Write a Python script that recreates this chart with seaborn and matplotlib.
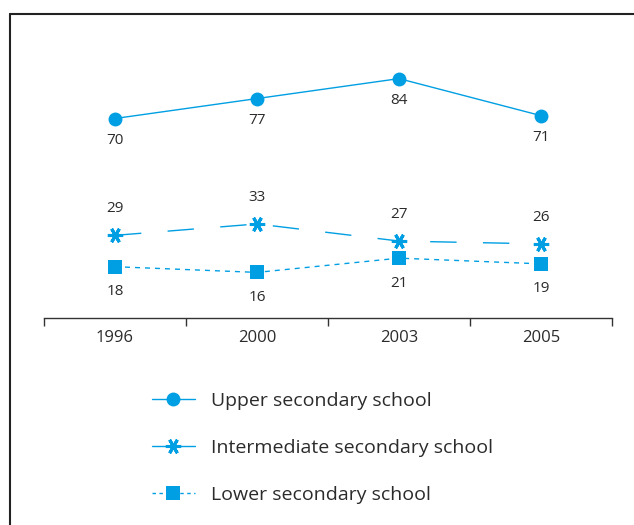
import matplotlib
matplotlib.use('Agg')
import matplotlib.pyplot as plt
import seaborn as sns
import pandas as pd
from matplotlib.lines import Line2D

# Data
years = ['1996', '2000', '2003', '2005']
upper = [70, 77, 84, 71]
intermediate = [29, 33, 27, 26]
lower = [18, 16, 21, 19]
series_names = ['Upper secondary school', 'Intermediate secondary school', 'Lower secondary school']

BLUE = '#009fe3'
TEXT = '#2b2b2b'

sns.set_theme(style='white')
plt.rcParams['font.family'] = ['Open Sans', 'DejaVu Sans']

df = pd.DataFrame({
    'pos': list(range(len(years))) * 3,
    'value': upper + intermediate + lower,
    'series': [s for s in series_names for _ in years],
})

fig = plt.figure(figsize=(6.34, 5.25), dpi=100)
ax = fig.add_axes([44 / 634, 1 - 318 / 525, (612 - 44) / 634, (318 - 33) / 525])

styles = {
    'Upper secondary school': dict(marker='o', markersize=10, dashes=None),
    'Intermediate secondary school': dict(marker=(6, 2, 90), markersize=11, dashes=(19, 19)),
    'Lower secondary school': dict(marker='s', markersize=9.5, dashes=(3.6, 3.6)),
}
offsets = {
    'Upper secondary school': -16,
    'Intermediate secondary school': 19,
    'Lower secondary school': -18,
}

handles = []
for name in series_names:
    sub = df[df['series'] == name]
    st = styles[name]
    is_star = name.startswith('Inter')
    sns.lineplot(data=sub, x='pos', y='value', ax=ax, color=BLUE, linewidth=1.0,
                 marker=st['marker'], markersize=st['markersize'],
                 markeredgecolor=BLUE, markeredgewidth=2.2 if is_star else 0,
                 legend=False)
    line = ax.lines[-1]
    if st['dashes'] is not None:
        line.set_dashes(st['dashes'])
    for x, v in zip(sub['pos'], sub['value']):
        ax.annotate(str(v), (x, v), xytext=(0, offsets[name]), textcoords='offset points',
                    ha='center', va='center', fontsize=11, color=TEXT)
    h = Line2D([0], [0], color=BLUE, linewidth=1.0, marker=st['marker'],
               markersize=st['markersize'], markeredgecolor=BLUE,
               markeredgewidth=2.2 if is_star else 0)
    if name.startswith('Lower'):
        h.set_dashes((2.5, 2.5))
    handles.append(h)

ax.set_xlim(-0.5, len(years) - 0.5)
ax.set_ylim(0, 100)
ax.set_xticks([i - 0.5 for i in range(len(years) + 1)])
ax.set_xticklabels([])
ax.set_xticks(range(len(years)), minor=True)
ax.set_xticklabels(years, minor=True)
ax.tick_params(axis='x', which='major', length=6, width=1, color='#333333', direction='out', bottom=True)
ax.tick_params(axis='x', which='minor', length=0, labelsize=12, labelcolor=TEXT, pad=9)
ax.set_yticks([])
ax.set_xlabel('')
ax.set_ylabel('')
for s in ['left', 'top', 'right']:
    ax.spines[s].set_visible(False)
ax.spines['bottom'].set_color('#333333')
ax.spines['bottom'].set_linewidth(1)

fig.legend(handles, series_names, loc='upper left', bbox_to_anchor=(142 / 634, 1 - 382 / 525),
           frameon=False, fontsize=14, labelcolor=TEXT, handlelength=2.2, handletextpad=0.85,
           labelspacing=1.5, borderpad=0)

# frame lines (left and top only)
fx = 9.5 / 634
fy = 1 - 13.5 / 525
fig.add_artist(Line2D([fx, 1], [fy, fy], transform=fig.transFigure, color='#222222', linewidth=1.5))
fig.add_artist(Line2D([fx, fx], [0, fy], transform=fig.transFigure, color='#222222', linewidth=1.5))

fig.savefig('out.png', dpi=100)
